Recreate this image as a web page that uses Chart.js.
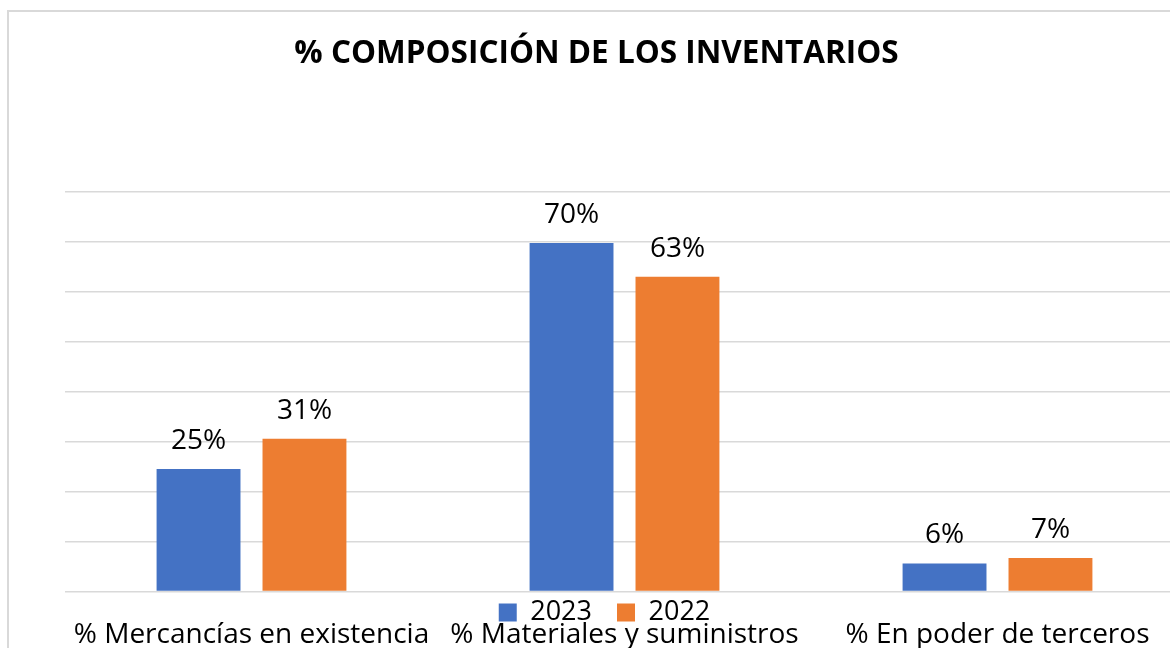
<!DOCTYPE html>
<html lang="es">
<head>
<meta charset="utf-8">
<title>% Composición de los inventarios</title>
<script src="https://cdn.jsdelivr.net/npm/chart.js@4.4.1/dist/chart.umd.min.js"></script>
<style>
  html, body { margin: 0; padding: 0; background: #fff; overflow: hidden; }
  #frame { position: absolute; left: 7px; top: 10px; width: 1200px; height: 700px; border: 2px solid #d9d9d9; }
  #chart { position: absolute; left: 0; top: 0; }
</style>
</head>
<body>
<div id="frame"></div>
<canvas id="chart" width="1190" height="733"></canvas>
<script>
const categories = ['% Mercancías en existencia', '% Materiales y suministros', '% En poder de terceros'];
const values2023 = [24.5, 69.8, 5.6];
const values2022 = [30.6, 63.0, 6.7];
const seriesNames = ['2023', '2022'];
const yTicks = [0, 10, 20, 30, 40, 50, 60, 70, 80];

Chart.defaults.font.family = '"Open Sans"';
Chart.defaults.color = '#000';

// percent labels above each bar
const barLabels = {
  id: 'barLabels',
  afterDatasetsDraw(chart) {
    const ctx = chart.ctx;
    ctx.save();
    ctx.font = '28px "Open Sans"';
    ctx.fillStyle = '#000';
    ctx.textAlign = 'center';
    ctx.textBaseline = 'alphabetic';
    chart.data.datasets.forEach((ds, i) => {
      chart.getDatasetMeta(i).data.forEach((bar, j) => {
        ctx.fillText(Math.round(ds.data[j]) + '%', bar.x, bar.y - 20);
      });
    });
    ctx.restore();
  }
};

// legend sits between the baseline and the category labels, title centred on the whole frame
const legendSpot = {
  id: 'legendSpot',
  afterLayout(chart) {
    const lg = chart.legend;
    const h = lg.bottom - lg.top;
    lg.top = 574;
    lg.bottom = lg.top + h;
    lg.left -= 20;
    lg.right -= 20;
    chart.titleBlock.left -= 28;
    chart.titleBlock.right -= 28;
  }
};

const ctx = document.getElementById('chart').getContext('2d');
new Chart(ctx, {
  type: 'bar',
  data: {
    labels: categories,
    datasets: [
      { label: seriesNames[0], data: values2023, backgroundColor: '#4472C4', borderWidth: 0 },
      { label: seriesNames[1], data: values2022, backgroundColor: '#ED7D31', borderWidth: 0 }
    ]
  },
  options: {
    responsive: false,
    animation: false,
    devicePixelRatio: 1,
    categoryPercentage: 0.568,
    barPercentage: 0.792,
    layout: { padding: { left: 65, right: 6, top: 0, bottom: 0 } },
    plugins: {
      title: {
        display: true,
        text: '% COMPOSICIÓN DE LOS INVENTARIOS',
        color: '#000',
        font: { size: 31.5, weight: 'bold' },
        padding: { top: 35, bottom: 119.2 }
      },
      legend: {
        position: 'bottom',
        labels: { boxWidth: 18, boxHeight: 18, padding: 25, font: { size: 27 }, color: '#000' }
      },
      tooltip: { enabled: false }
    },
    scales: {
      x: {
        grid: { display: false },
        border: { display: false },
        ticks: { padding: 19, font: { size: 28 }, color: '#000', maxRotation: 0, autoSkip: false }
      },
      y: {
        min: yTicks[0],
        max: yTicks[yTicks.length - 1],
        ticks: { display: false, stepSize: yTicks[1] - yTicks[0] },
        grid: { color: '#d9d9d9', lineWidth: 1.5, drawTicks: false },
        border: { display: false }
      }
    }
  },
  plugins: [barLabels, legendSpot]
});
</script>
</body>
</html>
